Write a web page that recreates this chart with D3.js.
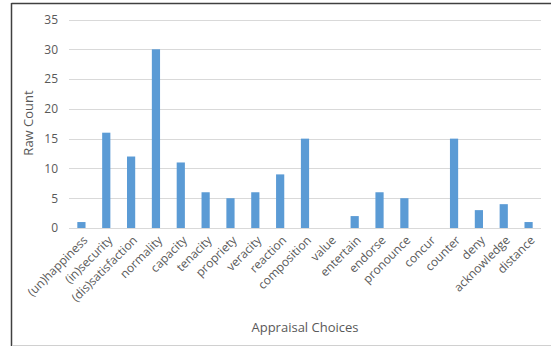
<!DOCTYPE html>
<html><head><meta charset="utf-8">
<script src="https://cdn.jsdelivr.net/npm/d3@7"></script>
<style>body{margin:0;background:#fff}svg{display:block}text{font-family:"Open Sans",sans-serif}</style>
</head><body>
<svg id="c" width="551" height="347"></svg>
<script>
const categories = ["(un)happiness","(in)security","(dis)satisfaction","normality","capacity","tenacity","propriety","veracity","reaction","composition","value","entertain","endorse","pronounce","concur","counter","deny","acknowledge","distance"];
const values = [1,16,12,30,11,6,5,6,9,15,0,2,6,5,0,15,3,4,1];
const yTicks = [0,5,10,15,20,25,30,35];
const xTitle = "Appraisal Choices";
const yTitle = "Raw Count";

const svg = d3.select("#c");
// frame
svg.append("line").attr("x1",11.5).attr("x2",551).attr("y1",3.5).attr("y2",3.5).attr("stroke","#404040").attr("stroke-width",1.5);
svg.append("line").attr("x1",11.5).attr("x2",11.5).attr("y1",3).attr("y2",346).attr("stroke","#404040").attr("stroke-width",1.5);
svg.append("line").attr("x1",12).attr("x2",551).attr("y1",345.5).attr("y2",345.5).attr("stroke","#d0d0d0");

const x = d3.scaleBand().domain(categories).range([69,541]).paddingInner(0.67).paddingOuter(0.335);
const y = d3.scaleLinear().domain([0,35]).range([228,19.5]);

const g = svg.append("g");
g.selectAll("line.grid").data(yTicks).join("line").attr("class","grid")
  .attr("x1",69).attr("x2",541).attr("y1",d=>Math.round(y(d))+0.5).attr("y2",d=>Math.round(y(d))+0.5)
  .attr("stroke","#d9d9d9").attr("stroke-width",1);

const yAxis = svg.append("g").attr("transform","translate(69,0)")
  .call(d3.axisLeft(y).tickValues(yTicks).tickSize(0).tickPadding(11));
yAxis.select(".domain").remove();
yAxis.selectAll("text").attr("fill","#595959").style("font-size","12px").style("font-family","'Open Sans',sans-serif");

g.selectAll("rect").data(values).join("rect")
  .attr("x",(d,i)=>x(categories[i])).attr("width",x.bandwidth())
  .attr("y",d=>y(d)).attr("height",d=>y(0)-y(d)).attr("fill","#5b9bd5");

const xAxis = svg.append("g").attr("transform","translate(0,228)")
  .call(d3.axisBottom(x).tickSize(0).tickPadding(0));
xAxis.select(".domain").remove();
xAxis.selectAll("text").attr("fill","#595959").style("font-size","12px").style("font-family","'Open Sans',sans-serif")
  .attr("text-anchor","end").attr("dy","0.35em")
  .attr("transform","translate(4,10) rotate(-45)");

svg.append("text").attr("x",305).attr("y",332).attr("text-anchor","middle")
  .attr("fill","#595959").style("font-size","13px").text(xTitle);
svg.append("text").attr("transform","translate(33,123) rotate(-90)").attr("text-anchor","middle")
  .attr("fill","#595959").style("font-size","13px").text(yTitle);
</script>
</body></html>
